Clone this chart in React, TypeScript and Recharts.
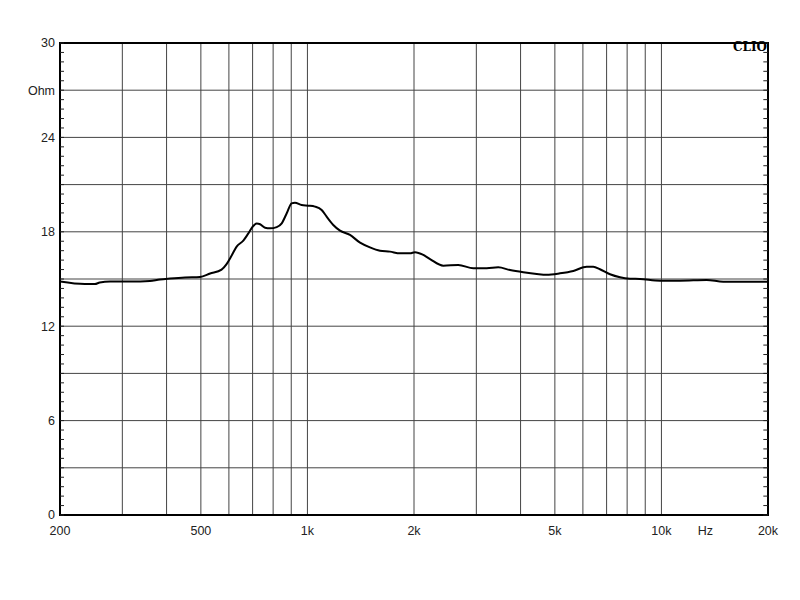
import React from "react";
import {
  LineChart,
  Line,
  XAxis,
  YAxis,
  CartesianGrid,
  ReferenceArea,
  ReferenceLine,
} from "recharts";

// impedance curve
const freqs = [
  200, 235, 251, 259, 277, 305, 337, 359, 383, 409, 451, 497, 531, 572, 591,
  611, 631, 659, 681, 703, 719, 735, 759, 784, 819, 846, 874, 902, 922, 963,
  1006, 1050, 1097, 1133, 1183, 1236, 1319, 1408, 1502, 1603, 1711, 1826,
  1949, 2013, 2125, 2220, 2420, 2668, 2942, 3210, 3460, 3734, 4072, 4444,
  4742, 5170, 5636, 6150, 6420, 6704, 7158, 7638, 8150, 8698, 9908, 11284,
  13420, 14952, 20000,
];
const ohms = [
  14.84, 14.68, 14.68, 14.78, 14.84, 14.84, 14.84, 14.87, 14.97, 15.03, 15.1,
  15.13, 15.35, 15.6, 15.95, 16.5, 17.06, 17.44, 17.9, 18.37, 18.52, 18.48,
  18.26, 18.22, 18.3, 18.54, 19.18, 19.81, 19.85, 19.7, 19.66, 19.6, 19.39,
  18.96, 18.43, 18.07, 17.8, 17.31, 17.01, 16.8, 16.74, 16.63, 16.63, 16.7,
  16.53, 16.27, 15.85, 15.89, 15.68, 15.68, 15.74, 15.57, 15.43, 15.32, 15.27,
  15.36, 15.51, 15.78, 15.78, 15.62, 15.3, 15.11, 15.02, 15.0, 14.89, 14.89,
  14.94, 14.83, 14.83,
];

const gridFreqs = [
  300, 400, 500, 600, 700, 800, 900, 1000, 2000, 3000, 4000, 5000, 6000, 7000,
  8000, 9000, 10000,
];
const xLabelTicks = [200, 500, 1000, 2000, 5000, 10000, 13300, 20000];
const xLabels: Record<number, string> = {
  200: "200",
  500: "500",
  1000: "1k",
  2000: "2k",
  5000: "5k",
  10000: "10k",
  13300: "Hz",
  20000: "20k",
};
const yTicks = [0, 3, 6, 9, 12, 15, 18, 21, 24, 27, 30];
const yLabels: Record<number, string> = {
  0: "0",
  6: "6",
  12: "12",
  18: "18",
  24: "24",
  27: "Ohm",
  30: "30",
};
// small inward ticks every 0.6 ohm on both sides
const minorTicks = Array.from({ length: 51 }, (_, i) => +(i * 0.6).toFixed(1));

const data = freqs.map((f, i) => ({ freq: f, ohm: ohms[i] }));

const tickStyle = { fontSize: 12.5, fontFamily: "Liberation Sans, Arial", fill: "#222" };

const LeftTick = ({ x, y, payload }: any) => {
  const label = yLabels[payload.value];
  return (
    <g>
      <line x1={x + 5} x2={x + 9} y1={y} y2={y} stroke="#222" strokeWidth={1} />
      {label !== undefined && (
        <text x={x} y={y} dy="0.35em" textAnchor="end" {...tickStyle}>
          {label}
        </text>
      )}
    </g>
  );
};

const App: React.FC = () => {
  return (
    <div style={{ position: "absolute", left: 0, top: 0, width: 800, height: 600, background: "#fff" }}>
      <LineChart
        width={800}
        height={600}
        data={data}
        margin={{ top: 43, right: 32, bottom: 55, left: 0 }}
      >
        <CartesianGrid
          stroke="#444"
          strokeWidth={1}
          verticalValues={gridFreqs}
          horizontalValues={yTicks}
        />
        <XAxis
          dataKey="freq"
          type="number"
          scale="log"
          domain={[200, 20000]}
          allowDataOverflow
          ticks={xLabelTicks}
          interval={0}
          tickFormatter={(v) => xLabels[v] ?? ""}
          tickLine={false}
          axisLine={false}
          tickSize={6}
          tickMargin={5}
          height={30}
          tick={tickStyle}
        />
        <YAxis
          type="number"
          domain={[0, 30]}
          allowDataOverflow
          ticks={minorTicks}
          interval={0}
          tickLine={false}
          axisLine={false}
          tickSize={3}
          tickMargin={2}
          width={60}
          tick={<LeftTick />}
        />
        {minorTicks.map((v) => (
          <ReferenceLine
            key={v}
            segment={[
              { x: 19400, y: v },
              { x: 20000, y: v },
            ]}
            stroke="#222"
            strokeWidth={1}
          />
        ))}
        <ReferenceArea
          x1={200}
          x2={20000}
          y1={0}
          y2={30}
          fill="none"
          fillOpacity={0}
          stroke="#000"
          strokeWidth={2}
        />
        <Line
          type="monotone"
          dataKey="ohm"
          stroke="#000"
          strokeWidth={2}
          dot={false}
          isAnimationActive={false}
        />
      </LineChart>
      <div
        style={{
          position: "absolute",
          zIndex: 1,
          left: 690,
          top: 40,
          width: 77,
          textAlign: "right",
          fontFamily: "DejaVu Serif, serif",
          fontWeight: "bold",
          fontSize: 12,
          lineHeight: "14px",
          color: "#000",
        }}
      >
        CLIO
      </div>
    </div>
  );
};

export default App;
